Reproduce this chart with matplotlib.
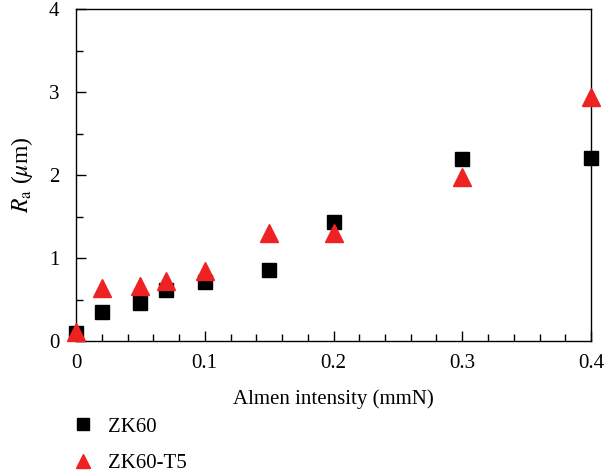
import matplotlib
matplotlib.use("Agg")
import matplotlib.pyplot as plt
from matplotlib.ticker import MultipleLocator

plt.rcParams['font.family'] = ['Liberation Serif', 'DejaVu Serif']
plt.rcParams['mathtext.fontset'] = 'stix'

x_zk60 = [0, 0.02, 0.05, 0.07, 0.1, 0.15, 0.2, 0.3, 0.4]
ra_zk60 = [0.10, 0.35, 0.46, 0.61, 0.71, 0.855, 1.43, 2.19, 2.20]
x_t5 = [0, 0.02, 0.05, 0.07, 0.1, 0.15, 0.2, 0.3, 0.4]
ra_t5 = [0.11, 0.64, 0.66, 0.72, 0.84, 1.30, 1.30, 1.98, 2.94]
labels = ["ZK60", "ZK60-T5"]

fig = plt.figure(figsize=(6.04, 4.73), dpi=100)
ax = fig.add_axes([76/604, 1-341/473, (591-76)/604, (341-9)/473])

h1, = ax.plot(x_zk60, ra_zk60, 's', color='black', markersize=10.5, linestyle='none', clip_on=False, zorder=3)
h2, = ax.plot(x_t5, ra_t5, '^', color='#ee2222', markersize=12.5, linestyle='none', clip_on=False, zorder=4)

ax.set_xlim(0, 0.4)
ax.set_ylim(0, 4)
ax.xaxis.set_minor_locator(MultipleLocator(0.02))
ax.yaxis.set_minor_locator(MultipleLocator(0.5))
ax.set_xticks([0, 0.1, 0.2, 0.3, 0.4])
ax.set_xticklabels(["0", "0.1", "0.2", "0.3", "0.4"])
ax.set_yticks([0, 1, 2, 3, 4])
ax.set_yticklabels(["0", "1", "2", "3", "4"])
ax.tick_params(which='both', direction='in', top=False, right=False, labelsize=15, width=1)
ax.tick_params(which='major', length=7)
ax.tick_params(which='minor', length=5)
ax.tick_params(axis='x', pad=9)
ax.tick_params(axis='y', pad=12)
for s in ax.spines.values():
    s.set_linewidth(1)

ax.set_xlabel("Almen intensity (mmN)", fontsize=15, labelpad=12)
ax.set_ylabel(r"$R_{\mathrm{a}}$ ($\mu$m)", fontsize=17, labelpad=10)

fig.legend([h1, h2], labels, loc='upper left', bbox_to_anchor=(73/604, 1-417/473),
           frameon=False, fontsize=15, handletextpad=0.7, labelspacing=0.8,
           handlelength=1.0, markerscale=0.85, numpoints=1, borderaxespad=0, borderpad=0)

fig.savefig("out.png", dpi=100)
